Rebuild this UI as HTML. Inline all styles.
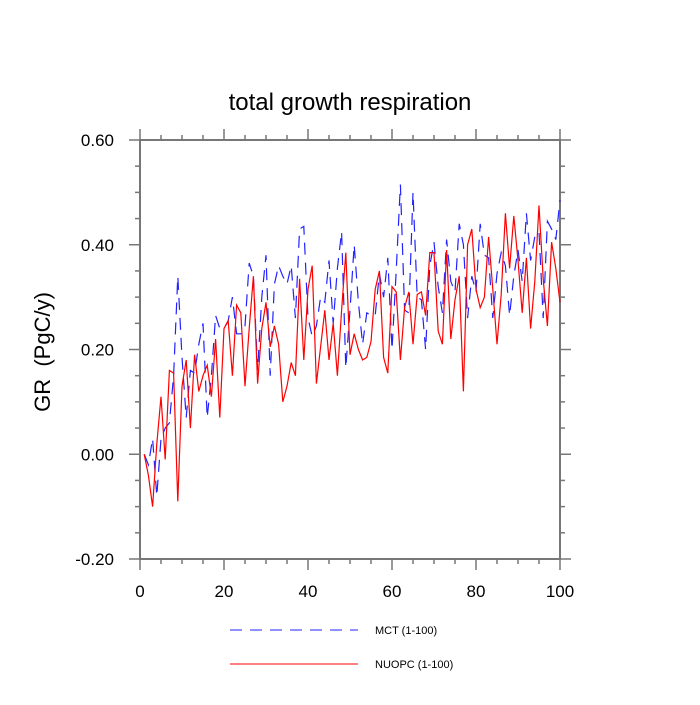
<!DOCTYPE html>
<html><head><meta charset="utf-8"><style>
body{margin:0;background:#fff}
svg text{font-family:"Liberation Sans",sans-serif}
</style></head><body>
<svg id="c" width="700" height="700">
<text x="350" y="110" text-anchor="middle" font-size="24">total growth respiration</text>
<text transform="translate(50,352) rotate(-90)" text-anchor="middle" font-size="22" style="white-space:pre">GR  (PgC/y)</text>
<g id="ax"></g>
<g id="marks"></g>
<g>
<line x1="230" y1="630" x2="358" y2="630" stroke="#2222ff" stroke-width="1" stroke-dasharray="12,8"/>
<text x="375" y="634" font-size="11">MCT (1-100)</text>
<line x1="230" y1="664" x2="358" y2="664" stroke="#ff0000" stroke-width="1"/>
<text x="375" y="668" font-size="11">NUOPC (1-100)</text>
</g>
</svg>
<script>
const xTicks=[0,20,40,60,80,100];
const yTicks=[-0.2,0,0.2,0.4,0.6];
const yTickLabels=["-0.20","0.00","0.20","0.40","0.60"];
const mct=[0.0,-0.02,0.03,-0.08,0.03,0.05,0.06,0.15,0.34,0.185,0.07,0.16,0.155,0.21,0.25,0.07,0.15,0.265,0.24,0.24,0.255,0.30,0.23,0.23,0.245,0.365,0.34,0.16,0.30,0.38,0.15,0.325,0.36,0.34,0.325,0.36,0.26,0.43,0.435,0.26,0.225,0.245,0.30,0.29,0.37,0.25,0.355,0.425,0.165,0.275,0.40,0.29,0.21,0.27,0.265,0.265,0.345,0.30,0.375,0.20,0.35,0.515,0.275,0.27,0.50,0.30,0.295,0.20,0.36,0.405,0.32,0.27,0.41,0.33,0.31,0.44,0.40,0.26,0.34,0.31,0.44,0.38,0.375,0.26,0.345,0.385,0.36,0.265,0.34,0.39,0.33,0.46,0.37,0.415,0.425,0.26,0.445,0.43,0.41,0.485];
const nuopc=[0.0,-0.04,-0.10,0.02,0.11,-0.01,0.16,0.155,-0.09,0.13,0.18,0.05,0.19,0.12,0.15,0.17,0.11,0.22,0.07,0.24,0.255,0.15,0.285,0.27,0.13,0.24,0.34,0.135,0.24,0.29,0.205,0.245,0.21,0.10,0.13,0.175,0.15,0.335,0.18,0.315,0.36,0.135,0.205,0.275,0.18,0.25,0.15,0.275,0.385,0.19,0.23,0.20,0.18,0.185,0.215,0.315,0.35,0.185,0.155,0.32,0.31,0.18,0.28,0.31,0.21,0.305,0.31,0.265,0.385,0.385,0.235,0.21,0.39,0.22,0.295,0.34,0.12,0.40,0.43,0.315,0.28,0.30,0.415,0.315,0.21,0.305,0.46,0.355,0.455,0.37,0.27,0.375,0.24,0.33,0.475,0.335,0.245,0.405,0.355,0.29];
const L=140,R=560,T=140,B=559;
const sx=v=>L+(v-0)/(100-0)*(R-L);
const sy=v=>B-(v+0.2)/(0.8)*(B-T);
const NS="http://www.w3.org/2000/svg";
const ax=document.getElementById('ax'),mk=document.getElementById('marks');
function ln(p,x1,y1,x2,y2,w,c){const l=document.createElementNS(NS,'line');l.setAttribute('x1',x1);l.setAttribute('y1',y1);l.setAttribute('x2',x2);l.setAttribute('y2',y2);l.setAttribute('stroke',c||'#777');l.setAttribute('stroke-width',w||1.5);p.appendChild(l);return l;}
const fr=document.createElementNS(NS,'rect');
fr.setAttribute('x',L);fr.setAttribute('y',T);fr.setAttribute('width',R-L);fr.setAttribute('height',B-T);fr.setAttribute('fill','none');fr.setAttribute('stroke','#777');fr.setAttribute('stroke-width','2');


ax.appendChild(fr);
for(let v=0;v<=100;v+=5){const x=sx(v),m=v%20===0?11:5;ln(ax,x,B,x,B+m);ln(ax,x,T,x,T-m);}
for(let i=0;i<=16;i++){const v=-0.2+i*0.05,y=sy(v),m=i%4===0?11:5;ln(ax,L,y,L-m,y);ln(ax,R,y,R+m,y);}
xTicks.forEach(v=>{const t=document.createElementNS(NS,'text');t.setAttribute('x',sx(v));t.setAttribute('y',B+38);t.setAttribute('text-anchor','middle');t.setAttribute('font-size','17');t.textContent=v;


ax.appendChild(t);});
yTicks.forEach((v,i)=>{const t=document.createElementNS(NS,'text');t.setAttribute('x',114);t.setAttribute('y',sy(v)+6);t.setAttribute('text-anchor','end');t.setAttribute('font-size','17');t.textContent=yTickLabels[i];


ax.appendChild(t);});
function series(arr,color,dash,name){const p=document.createElementNS(NS,'polyline');p.setAttribute('points',arr.map((v,i)=>sx(i+1)+','+sy(v)).join(' '));p.setAttribute('fill','none');p.setAttribute('stroke',color);p.setAttribute('stroke-width','1.2');if(dash)p.setAttribute('stroke-dasharray',dash);


mk.appendChild(p);}
series(mct,'#2222ff','12,8','mct-line');
series(nuopc,'#ff0000',null,'nuopc-line');
</script>
</body></html>
